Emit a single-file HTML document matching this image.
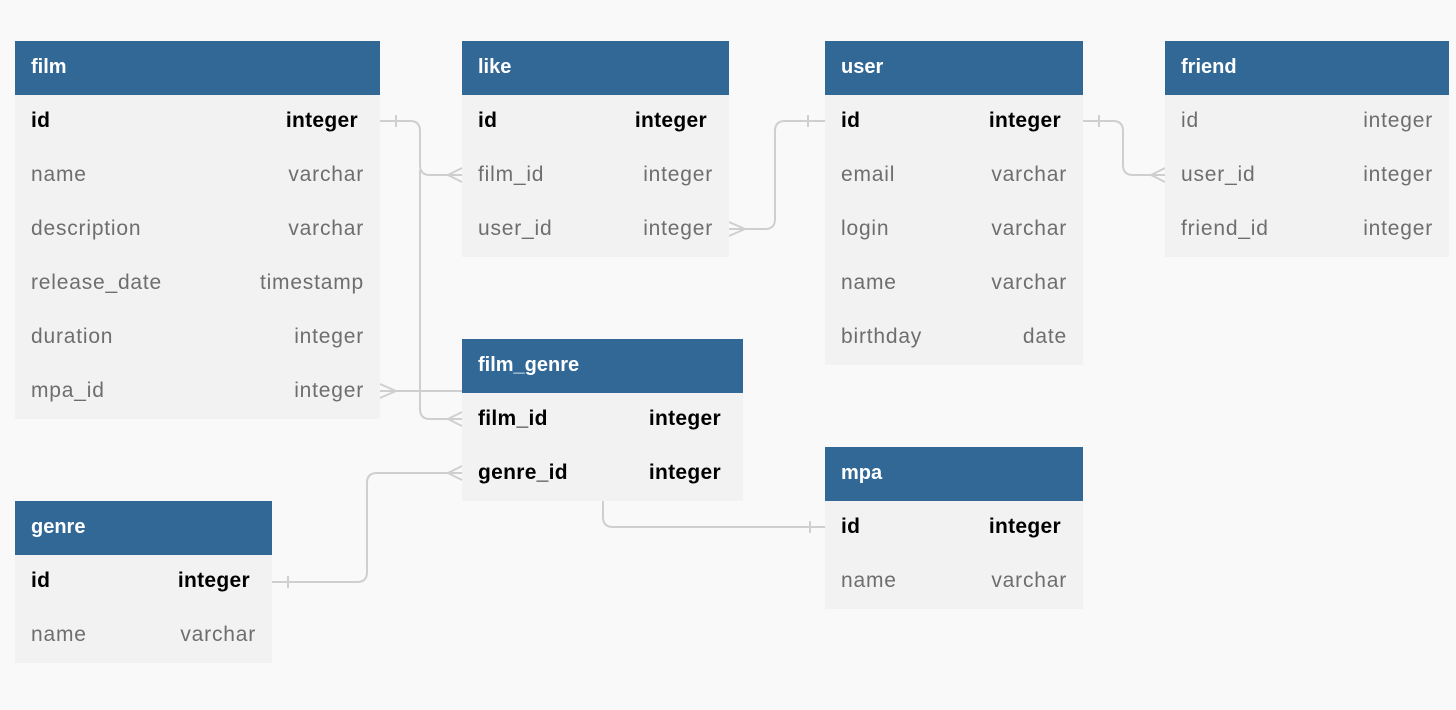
<!DOCTYPE html>
<html><head><meta charset="utf-8"><style>
body{margin:0;width:1456px;height:710px;background:#f9f9f9;position:relative;overflow:hidden;font-family:"Liberation Sans",Arial,sans-serif}
.t{position:absolute;background:#f2f2f2;z-index:2}
.h{height:54px;background:#316896;color:#fff;font-weight:bold;font-size:20px;line-height:52px;padding-left:16px}
.r{height:54px;line-height:52px;padding:0 16px;display:flex;justify-content:space-between;color:#6e6e6e;font-size:21px;letter-spacing:0.8px}
.r.b{color:#000;font-weight:bold;font-size:21px;letter-spacing:0.3px;padding-right:22px}
svg{position:absolute;left:0;top:0;z-index:1}
</style></head><body>
<svg width="1456" height="710" fill="none" stroke="#cfcfcf" stroke-width="2">
<path d="M380,121 H410 Q420,121 420,131 V165 Q420,175 430,175 H462"/>
<path d="M420,170 V409 Q420,419 430,419 H462"/>
<path d="M396,115 V127"/><path d="M448,175 L462,168 M448,175 L462,182"/><path d="M448,419 L462,412 M448,419 L462,426"/>
<path d="M729,229 H765 Q775,229 775,219 V131 Q775,121 785,121 H825"/>
<path d="M808,115 V127"/><path d="M745,229 L729,222 M745,229 L729,236"/>
<path d="M1083,121 H1113 Q1123,121 1123,131 V165 Q1123,175 1133,175 H1165"/>
<path d="M1099,115 V127"/><path d="M1151,175 L1165,168 M1151,175 L1165,182"/>
<path d="M380,391 H593 Q603,391 603,401 V517 Q603,527 613,527 H825"/>
<path d="M396,391 L380,384 M396,391 L380,398"/><path d="M810,521 V533"/>
<path d="M272,582 H357 Q367,582 367,572 V483 Q367,473 377,473 H462"/>
<path d="M288,576 V588"/><path d="M448,473 L462,466 M448,473 L462,480"/>
</svg>
<div class="t" style="left:15px;top:41px;width:365px"><div class="h">film</div>
<div class="r b"><span>id</span><span>integer</span></div>
<div class="r"><span>name</span><span>varchar</span></div>
<div class="r"><span>description</span><span>varchar</span></div>
<div class="r"><span>release_date</span><span>timestamp</span></div>
<div class="r"><span>duration</span><span>integer</span></div>
<div class="r"><span>mpa_id</span><span>integer</span></div></div>
<div class="t" style="left:462px;top:41px;width:267px"><div class="h">like</div>
<div class="r b"><span>id</span><span>integer</span></div>
<div class="r"><span>film_id</span><span>integer</span></div>
<div class="r"><span>user_id</span><span>integer</span></div></div>
<div class="t" style="left:825px;top:41px;width:258px"><div class="h">user</div>
<div class="r b"><span>id</span><span>integer</span></div>
<div class="r"><span>email</span><span>varchar</span></div>
<div class="r"><span>login</span><span>varchar</span></div>
<div class="r"><span>name</span><span>varchar</span></div>
<div class="r"><span>birthday</span><span>date</span></div></div>
<div class="t" style="left:1165px;top:41px;width:284px"><div class="h">friend</div>
<div class="r"><span>id</span><span>integer</span></div>
<div class="r"><span>user_id</span><span>integer</span></div>
<div class="r"><span>friend_id</span><span>integer</span></div></div>
<div class="t" style="left:462px;top:339px;width:281px"><div class="h">film_genre</div>
<div class="r b"><span>film_id</span><span>integer</span></div>
<div class="r b"><span>genre_id</span><span>integer</span></div></div>
<div class="t" style="left:15px;top:501px;width:257px"><div class="h">genre</div>
<div class="r b"><span>id</span><span>integer</span></div>
<div class="r"><span>name</span><span>varchar</span></div></div>
<div class="t" style="left:825px;top:447px;width:258px"><div class="h">mpa</div>
<div class="r b"><span>id</span><span>integer</span></div>
<div class="r"><span>name</span><span>varchar</span></div></div>
</body></html>
